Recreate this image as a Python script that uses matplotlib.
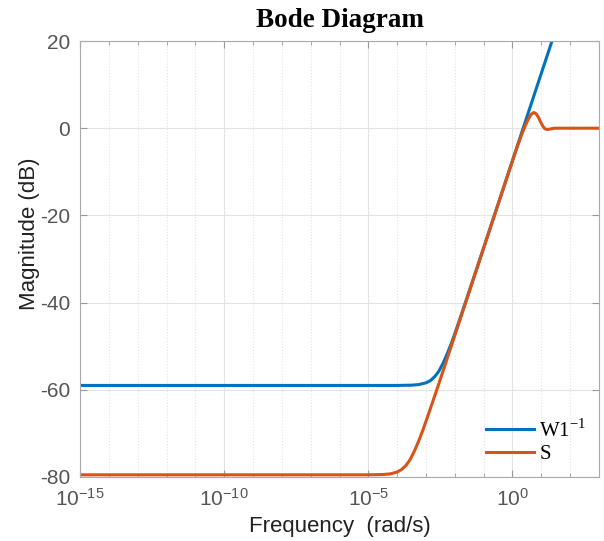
import numpy as np
import matplotlib
matplotlib.use("Agg")
import matplotlib.pyplot as plt

plt.rcParams['font.family'] = ['Liberation Sans', 'DejaVu Sans']
plt.rcParams['axes.unicode_minus'] = False

# values: log10(frequency) and magnitude in dB
w1inv_logw = [-15.0, -4.0, -3.5, -3.25, -3.0, -2.85, -2.7, -2.55, -2.4, -2.25,
              -2.1, -1.9, -1.6, -1.0, 0.0, 1.0, 1.6]
w1inv_db = [-59.0, -59.0, -58.94, -58.8, -58.4, -57.9, -57.0, -55.7, -53.8, -51.5,
            -49.0, -45.2, -39.35, -27.4, -7.4, 12.6, 24.6]

s_logw = [-15.0, -5.0, -4.5, -4.25, -4.0, -3.85, -3.7, -3.55, -3.4, -3.25,
          -3.1, -2.9, -2.6, -2.2, -1.0, -0.5, -0.2, 0.0, 0.2, 0.35,
          0.45, 0.55, 0.65, 0.74, 0.82, 0.9, 0.97, 1.05, 1.12, 1.2,
          1.3, 1.45, 3.0]
s_db = [-79.5, -79.5, -79.43, -79.3, -78.86, -78.3, -77.4, -76.0, -74.0, -71.7,
        -69.1, -65.3, -59.5, -51.5, -27.5, -17.5, -11.5, -7.5, -3.6, -0.9,
        0.7, 2.1, 3.2, 3.6, 3.3, 2.5, 1.5, 0.5, -0.1, -0.3,
        -0.2, 0.0, 0.0]

xtick_exp = [-15, -10, -5, 0]
ytick_vals = [-80, -60, -40, -20, 0, 20]

blue = '#0072BD'
orange = '#D95319'
grey = '#555555'

fig = plt.figure(figsize=(6.04, 5.41), dpi=100)
ax = fig.add_axes([0.1325, 0.1183, 0.8592, 0.8059])

ax.semilogx(10.0 ** np.array(w1inv_logw), w1inv_db, color=blue, lw=2.2, label=r'W1$^{\mathregular{-1}}$')
ax.semilogx(10.0 ** np.array(s_logw), s_db, color=orange, lw=2.2, label='S')

ax.set_xlim(1e-15, 1e3)
ax.set_ylim(-80, 20)
ax.set_yticks(ytick_vals)
ax.set_xticks([10.0 ** e for e in xtick_exp])
ax.set_xticklabels([r'$\mathregular{10^{%d}}$' % e for e in xtick_exp])
ax.set_xticks([10.0 ** k for k in range(-15, 4)], minor=True)
ax.set_xticklabels([], minor=True)

ax.grid(True, which='major', color='#e3e3e3', lw=0.8, ls='-')
ax.grid(True, which='minor', axis='x', color='#e3e3e3', lw=0.8, ls=':')

ax.tick_params(which='both', direction='in', top=True, right=True, colors='#999999',
               labelcolor=grey, labelsize=15)
ax.tick_params(which='major', length=5)
ax.tick_params(which='minor', length=3)
ax.tick_params(axis='y', pad=7)
ax.tick_params(axis='x', pad=8)
for sp in ax.spines.values():
    sp.set_color('#aaaaaa')

ax.set_title('Bode Diagram', family='Liberation Serif', fontweight='bold', fontsize=19.5, pad=10)
ax.set_ylabel('Magnitude (dB)', fontsize=16, color='#222222')
ax.yaxis.set_label_coords(-0.077, 0.557)
ax.set_xlabel('Frequency  (rad/s)', fontsize=16, color='#222222', labelpad=4)

ax.legend(loc='lower right', frameon=False, handlelength=2.3, borderaxespad=0.2,
          prop={'family': 'Liberation Serif', 'size': 15}, labelspacing=0.15, handletextpad=0.25)

fig.savefig('out.png', dpi=100)
